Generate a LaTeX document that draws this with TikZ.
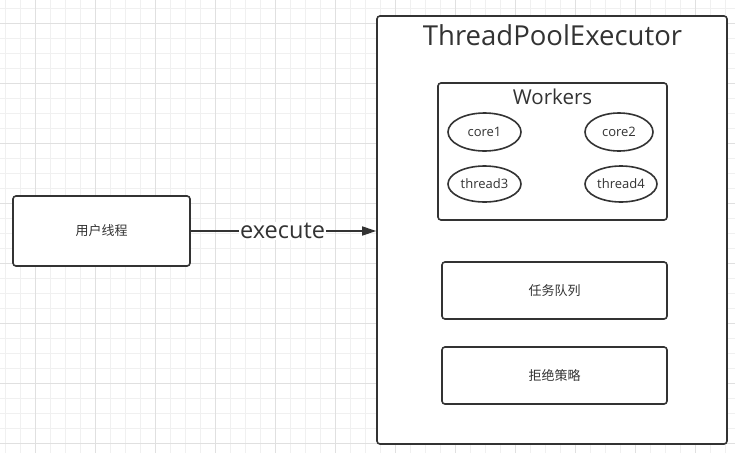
\documentclass[tikz,border=0pt]{standalone}
\usepackage{fontspec}
\setmainfont{Open Sans}
\newfontfamily\cjk{Noto Sans CJK SC}
\usetikzlibrary{arrows.meta,shapes.geometric}
\definecolor{ink}{HTML}{333333}
\definecolor{gridminor}{HTML}{F0F0F0}
\definecolor{gridmajor}{HTML}{E0E0E0}
\begin{document}
\begin{tikzpicture}[x=1pt,y=-1pt,
  box/.style={draw=ink, line width=1.6pt, rounded corners=3pt, fill=white, inner sep=0pt},
  worker/.style={ellipse, draw=ink, line width=1.6pt, fill=white, inner sep=0pt, font=\fontsize{13}{15}\selectfont, text=ink},
  label/.style={text=ink, inner sep=0pt},
  minorline/.style={draw=gridminor, line width=1pt},
  majorline/.style={draw=gridmajor, line width=1pt}]
\useasboundingbox (0,0) rectangle (735,453);
\fill[white] (0,0) rectangle (735,453);
% grid
\foreach \i in {0,...,48} { \draw[minorline] (5+15*\i,0) -- (5+15*\i,453); }
\foreach \i in {0,...,30} { \draw[minorline] (0,8.33+15*\i) -- (735,8.33+15*\i); }
\foreach \i in {0,...,11} { \draw[majorline] (35+60*\i,0) -- (35+60*\i,453); }
\foreach \i in {0,...,7} { \draw[majorline] (0,23.33+60*\i) -- (735,23.33+60*\i); }
% outer box
\node[box, minimum width=350, minimum height=428] (tpe) at (552,230) {};
\node[label, font=\fontsize{27.5}{32}\selectfont] (title) at (552.5,35) {ThreadPoolExecutor};
% workers
\node[box, minimum width=229, minimum height=137] (workers) at (552.5,151.5) {};
\node[label, font=\fontsize{20.5}{24}\selectfont] (wtitle) at (552.5,97) {Workers};
\node[worker, minimum width=73, minimum height=38] (core1) at (484.5,132) {core1};
\node[worker, minimum width=68, minimum height=38] (core2) at (619,132) {core2};
\node[worker, minimum width=73, minimum height=36] (thread3) at (484.5,184) {thread3};
\node[worker, minimum width=72, minimum height=36] (thread4) at (621,184) {thread4};
% queue and policy
\node[box, minimum width=225, minimum height=57, font=\cjk\fontsize{13}{15}\selectfont, text=ink] (queue) at (554.5,290.5) {任务队列};
\node[box, minimum width=225, minimum height=57, font=\cjk\fontsize{13}{15}\selectfont, text=ink] (policy) at (554.5,375.5) {拒绝策略};
% user thread
\node[box, minimum width=177, minimum height=70, font=\cjk\fontsize{13}{15}\selectfont, text=ink] (user) at (101.5,231) {用户线程};
% arrow
\draw[draw=ink, line width=1.6pt, -{Triangle[length=14pt,width=9pt]}] (user.east) -- node[pos=0.495, fill=white, text=ink, inner sep=1pt, font=\fontsize{23.5}{27}\selectfont] (exec) {execute} (user.east -| tpe.west);
\end{tikzpicture}
\end{document}
